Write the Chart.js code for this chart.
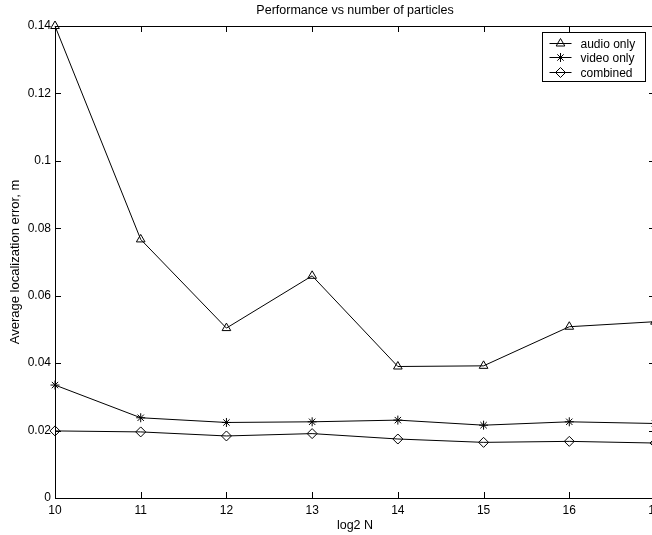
<!DOCTYPE html>
<html>
<head>
<meta charset="utf-8">
<script src="https://cdn.jsdelivr.net/npm/chart.js@4.4.1/dist/chart.umd.min.js"></script>
<style>
  html, body { margin: 0; padding: 0; background: #fff; overflow: hidden; }
  #wrap { width: 652px; height: 535px; overflow: hidden; }
  canvas { display: block; }
</style>
</head>
<body>
<div id="wrap"><canvas id="chart" width="670" height="535"></canvas></div>
<script>
const log2N = [10, 11, 12, 13, 14, 15, 16, 17];
const audioOnly = [0.1400, 0.0767, 0.0504, 0.0659, 0.0390, 0.0392, 0.0508, 0.0523];
const videoOnly = [0.0335, 0.0238, 0.0224, 0.0226, 0.0231, 0.0216, 0.0226, 0.0221];
const combined = [0.0199, 0.0196, 0.0184, 0.0191, 0.0175, 0.0165, 0.0168, 0.0163];

const seriesNames = ['audio only', 'video only', 'combined'];
const markers = ['triangle', 'star', 'rectRot'];
const markerSizes = [5, 4.5, 5];

const fam = "'Liberation Sans', Arial, sans-serif";
const tickFont = { family: fam, size: 12 };

function points(ys) {
    return log2N.map((x, i) => ({ x: x, y: ys[i] }));
}

const datasets = [audioOnly, videoOnly, combined].map((ys, i) => ({
    label: seriesNames[i],
    data: points(ys),
    borderColor: '#000',
    borderWidth: 1,
    backgroundColor: 'transparent',
    pointStyle: markers[i],
    pointRadius: markerSizes[i],
    pointBorderColor: '#000',
    pointBackgroundColor: 'transparent',
    pointBorderWidth: 1,
    tension: 0,
    clip: false
}));

// matlab style box, inward ticks and legend
const matlabBox = {
    id: 'matlabBox',
    afterDatasetsDraw(chart) {
        const ctx = chart.ctx;
        const a = chart.chartArea;
        const xs = chart.scales.x, ys = chart.scales.y;
        const tl = 6;
        ctx.save();
        ctx.strokeStyle = '#000';
        ctx.lineWidth = 1;
        ctx.beginPath();
        ys.ticks.forEach(t => {
            const y = Math.round(ys.getPixelForValue(t.value)) + 0.5;
            ctx.moveTo(a.left, y); ctx.lineTo(a.left + tl, y);
            ctx.moveTo(a.right, y); ctx.lineTo(a.right - tl, y);
        });
        xs.ticks.forEach(t => {
            const x = Math.round(xs.getPixelForValue(t.value)) + 0.5;
            ctx.moveTo(x, a.bottom); ctx.lineTo(x, a.bottom - tl);
            ctx.moveTo(x, a.top); ctx.lineTo(x, a.top + tl);
        });
        ctx.stroke();
        ctx.strokeRect(Math.round(a.left) + 0.5, Math.round(a.top) + 0.5,
            Math.round(a.right - a.left), Math.round(a.bottom - a.top));

        // legend
        const lw = 103, lh = 49;
        const lx = Math.round(a.right - 10 - lw) + 0.5;
        const ly = Math.round(a.top + 6) + 0.5;
        ctx.fillStyle = '#fff';
        ctx.fillRect(lx, ly, lw, lh);
        ctx.strokeRect(lx, ly, lw, lh);
        ctx.font = "12px " + fam;
        ctx.textBaseline = 'middle';
        ctx.textAlign = 'left';
        chart.data.datasets.forEach((ds, i) => {
            const ry = Math.round(ly + 10 + i * 14.7) + 0.5;
            ctx.beginPath();
            ctx.moveTo(lx + 7, ry);
            ctx.lineTo(lx + 29, ry);
            ctx.stroke();
            ctx.fillStyle = 'rgba(0,0,0,0)';
            Chart.helpers.drawPoint(ctx, {
                pointStyle: ds.pointStyle,
                radius: ds.pointRadius,
                borderWidth: 1,
                rotation: 0
            }, lx + 18, ry);
            ctx.fillStyle = '#000';
            ctx.fillText(ds.label, lx + 38, ry + 1);
        });
        ctx.restore();
    }
};

const ctx = document.getElementById('chart').getContext('2d');

new Chart(ctx, {
    type: 'line',
    data: { datasets: datasets },
    plugins: [matlabBox],
    options: {
        responsive: false,
        animation: false,
        layout: { padding: { left: 0, right: 15, top: 0, bottom: 0 } },
        plugins: {
            legend: { display: false },
            tooltip: { enabled: false },
            title: {
                display: true,
                text: 'Performance vs number of particles',
                fullSize: false,
                color: '#000',
                font: { family: fam, size: 12.5, weight: 'normal' },
                padding: { top: 3.5, bottom: 7.5 }
            }
        },
        scales: {
            x: {
                type: 'linear',
                min: 10,
                max: 17,
                afterFit(scale) { scale.height = 37; },
                ticks: { stepSize: 1, color: '#000', font: tickFont, padding: 5, maxRotation: 0 },
                grid: { display: false, drawTicks: false },
                border: { display: false },
                title: { display: true, text: 'log2 N', color: '#000', font: { family: fam, size: 12.5 }, padding: { top: 0, bottom: 1.5 } }
            },
            y: {
                min: 0,
                max: 0.14,
                afterFit(scale) { scale.width = 55; },
                ticks: {
                    stepSize: 0.02, color: '#000', font: tickFont, padding: 4,
                    callback: v => String(Number(v.toFixed(2)))
                },
                grid: { display: false, drawTicks: false },
                border: { display: false },
                title: { display: true, text: 'Average localization error, m', color: '#000', font: { family: fam, size: 13 }, padding: { top: 8, bottom: 0 } }
            }
        }
    }
});
</script>
</body>
</html>
